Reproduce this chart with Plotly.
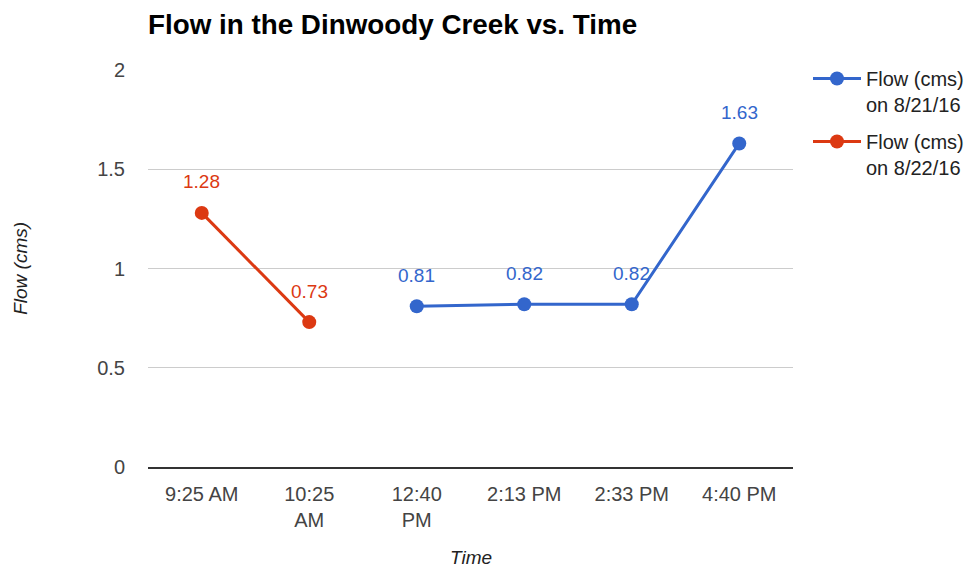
import plotly.graph_objects as go

# Sampling times (x categories) and their wrapped tick labels
times = ["9:25 AM", "10:25 AM", "12:40 PM", "2:13 PM", "2:33 PM", "4:40 PM"]
tick_labels = ["9:25 AM", "10:25<br>AM", "12:40<br>PM", "2:13 PM", "2:33 PM", "4:40 PM"]

# Flow readings (cms) per day
times_0821 = ["12:40 PM", "2:13 PM", "2:33 PM", "4:40 PM"]
flow_0821 = [0.81, 0.82, 0.82, 1.63]
times_0822 = ["9:25 AM", "10:25 AM"]
flow_0822 = [1.28, 0.73]

y_ticks = [0, 0.5, 1, 1.5, 2]
y_tick_text = ["0", "0.5", "1", "1.5", "2"]

BLUE = "#3366cc"
RED = "#dc3912"
FONT = "Liberation Sans, Arial, sans-serif"

fig = go.Figure()

series = [
    ("Flow (cms)<br>on 8/21/16", times_0821, flow_0821, BLUE, "a"),
    ("Flow (cms)<br>on 8/22/16", times_0822, flow_0822, RED, "b"),
]
for name, xs, ys, color, grp in series:
    fig.add_trace(go.Scatter(
        x=xs, y=ys, name=name, mode="lines+markers",
        legendgroup=grp,
        line=dict(color=color, width=3),
        marker=dict(color=color, size=14),
        hoverinfo="x+y",
    ))
    for xv, yv in zip(xs, ys):
        fig.add_annotation(
            x=xv, y=yv, xref="x", yref="y", text=f"{yv:g}",
            showarrow=False, yshift=31,
            font=dict(family=FONT, size=19, color=color),
        )

# Axis titles
fig.add_annotation(
    x=0.5, y=-0.229, xref="paper", yref="paper", text="<i>Time</i>",
    showarrow=False, xanchor="center", yanchor="middle",
    font=dict(family=FONT, size=19, color="#222222"),
)
fig.add_annotation(
    x=-0.198, y=0.5, xref="paper", yref="paper", text="<i>Flow (cms)</i>",
    showarrow=False, textangle=-90, xanchor="center", yanchor="middle",
    font=dict(family=FONT, size=19, color="#222222"),
)

fig.update_layout(
    width=969, height=571,
    margin=dict(l=148, r=176, t=70, b=104, autoexpand=False),
    paper_bgcolor="white", plot_bgcolor="white",
    font=dict(family=FONT, size=19, color="#444444"),
    title=dict(
        text="<b>Flow in the Dinwoody Creek vs. Time</b>",
        x=148 / 969, xanchor="left", xref="container",
        y=1 - 24 / 571, yanchor="middle",
        font=dict(family=FONT, size=27.8, color="#000000"),
    ),
    xaxis=dict(
        type="category", categoryorder="array", categoryarray=times,
        range=[-0.5, len(times) - 0.5],
        tickvals=times, ticktext=tick_labels,
        showgrid=False, showline=True, linecolor="#333333", linewidth=1.5,
        ticks="", ticklabelstandoff=8,
        tickfont=dict(family=FONT, size=20, color="#444444"),
        fixedrange=True,
    ),
    yaxis=dict(
        range=[0, 2], tickvals=y_ticks, ticktext=y_tick_text,
        showgrid=True, gridcolor="#cccccc", gridwidth=1,
        zeroline=False, showline=False, ticks="",
        ticklabelstandoff=22,
        tickfont=dict(family=FONT, size=20, color="#444444"),
        fixedrange=True,
    ),
    legend=dict(
        xref="container", yref="container",
        x=808 / 969, y=1 - 59 / 571, xanchor="left", yanchor="top",
        valign="top", itemwidth=48,
        font=dict(family=FONT, size=20, color="#222222"),
        tracegroupgap=8, bgcolor="rgba(0,0,0,0)",
    ),
    showlegend=True,
)

fig.write_html("out.html")
